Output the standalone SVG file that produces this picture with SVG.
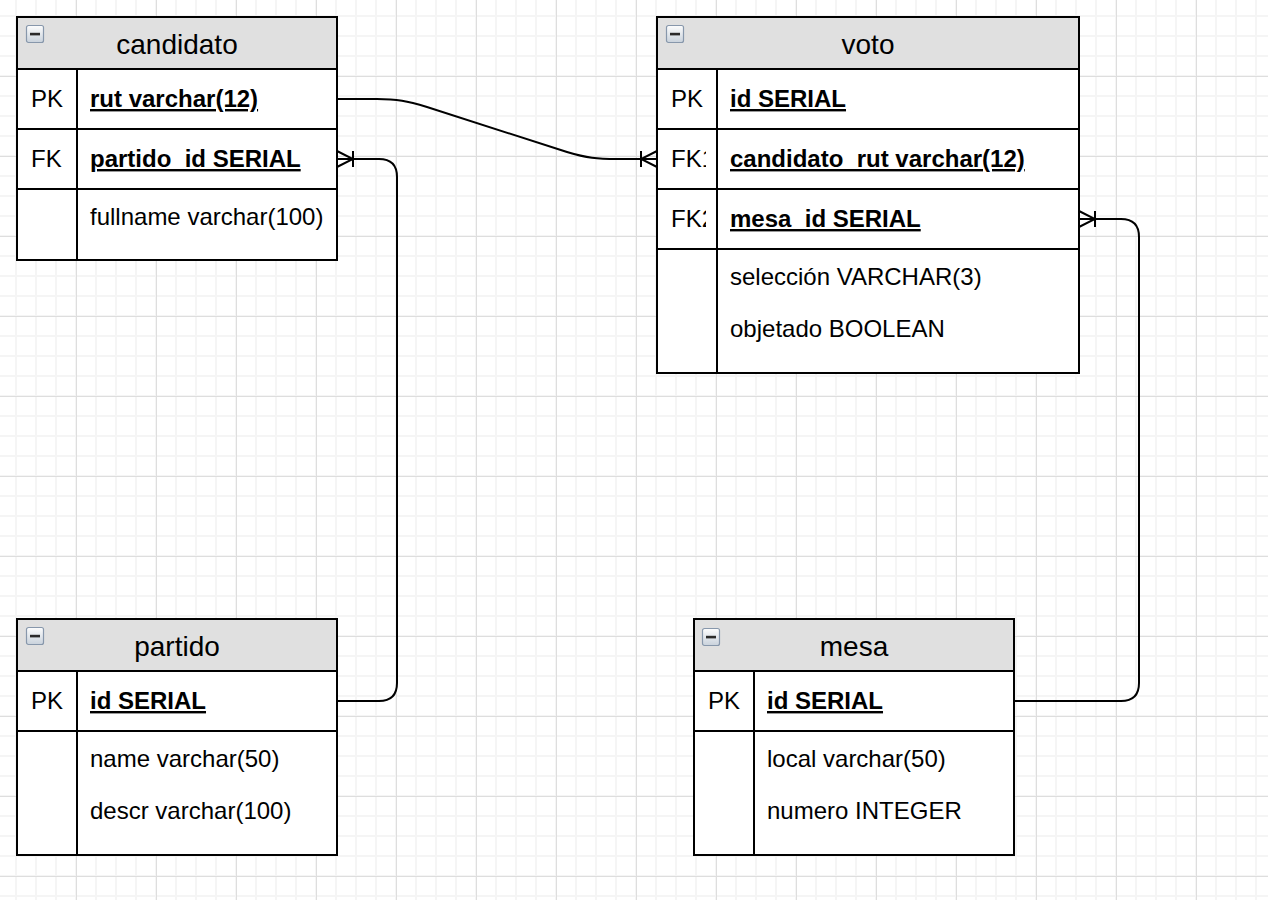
<svg xmlns="http://www.w3.org/2000/svg" width="1268" height="900" viewBox="0 0 1268 900">
  <style>
    text { font-family: "Liberation Sans", Arial, Helvetica, sans-serif; fill: #000; }
    .title { font-size: 28px; text-anchor: middle; }
    .key { font-size: 24px; }
    .pk { font-size: 24px; font-weight: bold; text-decoration: underline; }
    .attr { font-size: 24px; }
    .frame { fill: #ffffff; stroke: #000; stroke-width: 2; }
    .head { fill: #e0e0e0; stroke: #000; stroke-width: 2; }
    .line { stroke: #000; stroke-width: 2; fill: none; }
    .edge { stroke: #000; stroke-width: 2; fill: none; marker-end: url(#oneToMany); }
  </style>
  <defs>
    <pattern id="minor" width="20" height="20" patternUnits="userSpaceOnUse" x="6" y="6">
      <path d="M10 0V20M0 10H20" stroke="#f5f5f5" stroke-width="2" fill="none"/>
    </pattern>
    <pattern id="major" width="80" height="80" patternUnits="userSpaceOnUse" x="36" y="36">
      <path d="M40.5 0V80M0 40.5H80" stroke="#dedede" stroke-width="1" fill="none"/>
    </pattern>
    <linearGradient id="iconGrad" x1="0" y1="0" x2="0" y2="1">
      <stop offset="0" stop-color="#fdfdfd"/>
      <stop offset="1" stop-color="#c9d2dc"/>
    </linearGradient>
    <g id="minus">
      <rect x="0.5" y="0.5" width="17" height="17" rx="2" fill="url(#iconGrad)" stroke="#8797ab" stroke-width="1.2"/>
      <rect x="4" y="7.8" width="10" height="2.6" fill="#2b2b2b"/>
    </g>
    <marker id="oneToMany" markerUnits="userSpaceOnUse" markerWidth="20" markerHeight="20" viewBox="0 0 20 20" refX="18" refY="10" orient="auto">
      <path d="M2 2V18M18 2L2 10L18 18M2 10H18" stroke="#000" stroke-width="2" fill="none"/>
    </marker>
    <clipPath id="vkeyClip">
      <rect x="657" y="129" width="49" height="120"/>
    </clipPath>
  </defs>

  <rect width="1268" height="900" fill="#ffffff"/>
  <rect width="1268" height="900" fill="url(#minor)"/>
  <rect width="1268" height="900" fill="url(#major)"/>

  <g id="connectors">
    <path class="edge" d="M337 99L377 99C397 99 407 101 427 107L567 152C587 158 597 159 617 159L657 159"/>
    <path class="edge" d="M337 701L379 701Q397 701 397 683L397 177Q397 159 379 159L337 159"/>
    <path class="edge" d="M1014 701L1121 701Q1139 701 1139 683L1139 237Q1139 219 1121 219L1079 219"/>
  </g>

  <g id="candidato">
    <rect class="frame" x="17" y="17" width="320" height="243"/>
    <rect class="head" x="17" y="17" width="320" height="52"/>
    <use href="#minus" x="26" y="25"/>
    <text class="title" x="177" y="54">candidato</text>
    <path class="line" d="M17 129H337M17 189H337M77 69V260"/>
    <text class="key" x="31" y="107">PK</text>
    <text class="pk" x="90" y="107">rut varchar(12)</text>
    <text class="key" x="31" y="167">FK</text>
    <text class="pk" x="90" y="167">partido_id SERIAL</text>
    <text class="attr" x="90" y="225">fullname varchar(100)</text>
  </g>

  <g id="voto">
    <rect class="frame" x="657" y="17" width="422" height="356"/>
    <rect class="head" x="657" y="17" width="422" height="52"/>
    <use href="#minus" x="666" y="25"/>
    <text class="title" x="868" y="54">voto</text>
    <path class="line" d="M657 129H1079M657 189H1079M657 249H1079M717 69V373"/>
    <text class="key" x="671" y="107">PK</text>
    <text class="pk" x="730" y="107">id SERIAL</text>
    <g clip-path="url(#vkeyClip)">
      <text class="key" x="671" y="167">FK1</text>
      <text class="key" x="671" y="227">FK2</text>
    </g>
    <text class="pk" x="730" y="167">candidato_rut varchar(12)</text>
    <text class="pk" x="730" y="227">mesa_id SERIAL</text>
    <text class="attr" x="730" y="285">selección VARCHAR(3)</text>
    <text class="attr" x="730" y="337">objetado BOOLEAN</text>
  </g>

  <g id="partido">
    <rect class="frame" x="17" y="619" width="320" height="236"/>
    <rect class="head" x="17" y="619" width="320" height="52"/>
    <use href="#minus" x="26" y="627"/>
    <text class="title" x="177" y="656">partido</text>
    <path class="line" d="M17 731H337M77 671V855"/>
    <text class="key" x="31" y="709">PK</text>
    <text class="pk" x="90" y="709">id SERIAL</text>
    <text class="attr" x="90" y="767">name varchar(50)</text>
    <text class="attr" x="90" y="819">descr varchar(100)</text>
  </g>

  <g id="mesa">
    <rect class="frame" x="694" y="619" width="320" height="236"/>
    <rect class="head" x="694" y="619" width="320" height="52"/>
    <use href="#minus" x="702" y="628"/>
    <text class="title" x="854" y="656">mesa</text>
    <path class="line" d="M694 731H1014M754 671V855"/>
    <text class="key" x="708" y="709">PK</text>
    <text class="pk" x="767" y="709">id SERIAL</text>
    <text class="attr" x="767" y="767">local varchar(50)</text>
    <text class="attr" x="767" y="819">numero INTEGER</text>
  </g>
</svg>
